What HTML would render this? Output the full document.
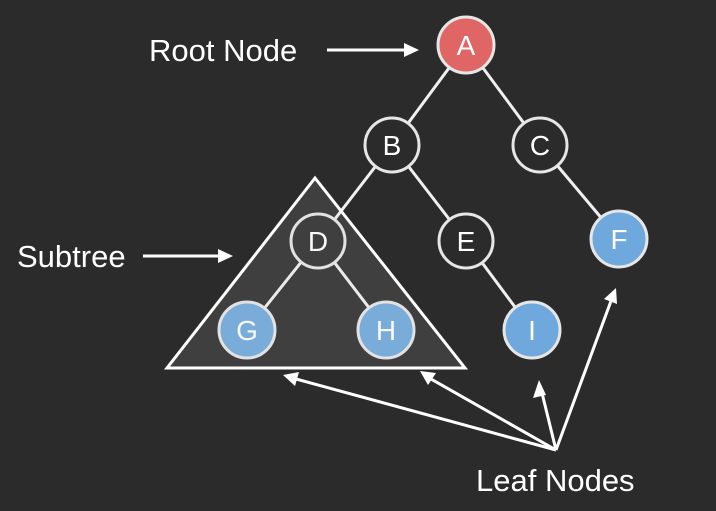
<!DOCTYPE html>
<html><head><style>
html,body{margin:0;padding:0;background:#2b2b2b;}
svg{display:block;}
text{font-family:"Liberation Sans",Arial,sans-serif;fill:#fff;}
</style></head><body>
<svg width="716" height="511" viewBox="0 0 716 511" xmlns="http://www.w3.org/2000/svg">
<rect width="716" height="511" fill="#2b2b2b"/>
<g stroke="#f0f0f0" stroke-width="3">
<line x1="466" y1="45" x2="392" y2="145"/>
<line x1="466" y1="45" x2="540" y2="145"/>
<line x1="392" y1="145" x2="318" y2="241"/>
<line x1="392" y1="145" x2="466" y2="241"/>
<line x1="540" y1="145" x2="619" y2="239"/>
<line x1="466" y1="241" x2="532" y2="330"/>
<line x1="318" y1="241" x2="247" y2="330"/>
<line x1="318" y1="241" x2="386" y2="330"/>
</g>
<g stroke="#e6e6e6" stroke-width="3">
<circle cx="466" cy="45" r="28" fill="#e06666"/>
<circle cx="392" cy="145" r="27" fill="#2b2b2b"/>
<circle cx="540" cy="145" r="27" fill="#2b2b2b"/>
<circle cx="318" cy="241" r="27" fill="#2b2b2b"/>
<circle cx="466" cy="241" r="27" fill="#2b2b2b"/>
<circle cx="619" cy="239" r="28" fill="#6fa8dc"/>
<circle cx="247" cy="330" r="28" fill="#6fa8dc"/>
<circle cx="386" cy="330" r="28" fill="#6fa8dc"/>
<circle cx="532" cy="330" r="28" fill="#6fa8dc"/>
</g>
<g font-size="28" text-anchor="middle">
<text x="466" y="55">A</text>
<text x="392" y="155">B</text>
<text x="540" y="155">C</text>
<text x="318" y="251">D</text>
<text x="466" y="251">E</text>
<text x="619" y="249">F</text>
<text x="247" y="340">G</text>
<text x="386" y="340">H</text>
<text x="532" y="340">I</text>
</g>
<polygon points="315,178 167,368 465,368" fill="rgba(200,200,200,0.13)" stroke="#fff" stroke-width="3" stroke-linejoin="miter"/>
<g stroke="#fff" stroke-width="3" fill="none">
<line x1="327" y1="50" x2="405" y2="50"/>
<line x1="143" y1="256" x2="220" y2="256"/>
<line x1="556" y1="450" x2="296" y2="379"/>
<line x1="556" y1="450" x2="431" y2="379"/>
<line x1="556" y1="450" x2="542" y2="393"/>
<line x1="556" y1="450" x2="611" y2="301"/>
</g>
<g fill="#fff">
<polygon points="419,50 404,43 404,57"/>
<polygon points="233,256 218,249 218,263"/>
<polygon points="283,375 299,372 295,386"/>
<polygon points="420,371 436,373 428,385"/>
<polygon points="539,380 546,395 533,398"/>
<polygon points="616,288 617,304 604,299"/>
</g>
<g font-size="31">
<text x="149" y="61">Root Node</text>
<text x="17" y="267">Subtree</text>
<text x="476" y="491">Leaf Nodes</text>
</g>
</svg>
</body></html>
